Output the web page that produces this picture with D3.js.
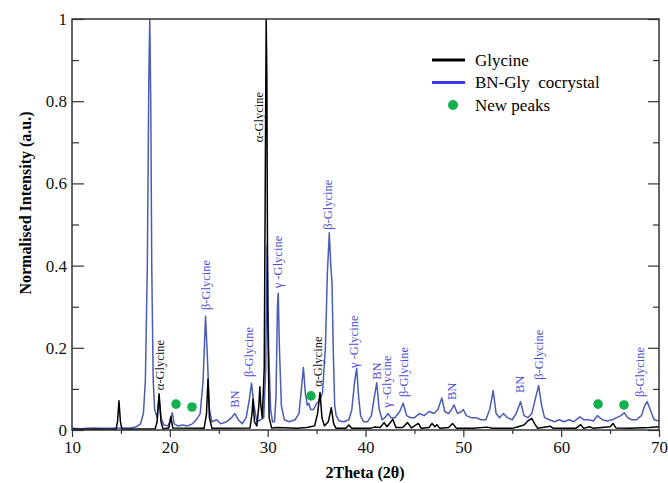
<!DOCTYPE html>
<html>
<head>
<meta charset="utf-8">
<script src="https://cdn.jsdelivr.net/npm/d3@7"></script>
<style>
  body { margin: 0; background: #fff; }
  svg { display: block; font-family: "Liberation Serif", "Times New Roman", serif; }
</style>
</head>
<body>
<div id="chart"></div>
<script>
// BN-Gly cocrystal pattern [2theta, intensity]
const cocrystal = [
  [10.0, 0.004], [11.0, 0.003], [12.0, 0.005], [13.0, 0.004], [14.0, 0.004], [15.0, 0.005],
  [16.0, 0.005], [16.6, 0.008], [17.0, 0.015], [17.3, 0.04], [17.5, 0.12], [17.7, 0.4],
  [17.85, 0.85], [17.95, 1.0], [18.05, 0.8], [18.15, 0.4], [18.3, 0.12], [18.45, 0.05],
  [18.7, 0.03], [18.9, 0.08], [19.1, 0.03], [19.4, 0.012], [19.8, 0.01], [20.0, 0.02],
  [20.25, 0.042], [20.45, 0.015], [20.8, 0.01], [21.3, 0.012], [21.8, 0.01], [22.3, 0.015],
  [22.7, 0.025], [22.9, 0.032], [23.1, 0.04], [23.4, 0.12], [23.65, 0.277], [23.85, 0.17],
  [24.05, 0.05], [24.3, 0.02], [24.8, 0.025], [25.2, 0.015], [25.8, 0.02], [26.3, 0.03],
  [26.65, 0.04], [27.0, 0.025], [27.4, 0.015], [27.8, 0.03], [28.1, 0.07], [28.35, 0.114],
  [28.6, 0.06], [28.9, 0.02], [29.3, 0.025], [29.6, 0.03], [29.8, 0.15], [29.95, 0.45],
  [30.1, 0.2], [30.3, 0.05], [30.5, 0.02], [30.7, 0.02], [30.85, 0.08], [31.0, 0.3],
  [31.08, 0.333], [31.2, 0.2], [31.4, 0.06], [31.7, 0.025], [32.2, 0.02], [32.8, 0.025],
  [33.2, 0.04], [33.45, 0.1], [33.65, 0.152], [33.85, 0.09], [34.05, 0.06], [34.2, 0.065],
  [34.4, 0.05], [34.7, 0.05], [35.0, 0.065], [35.3, 0.07], [35.6, 0.09], [35.9, 0.2],
  [36.1, 0.38], [36.3, 0.48], [36.45, 0.4], [36.58, 0.357], [36.7, 0.2], [36.85, 0.06],
  [37.0, 0.035], [37.3, 0.022], [37.8, 0.02], [38.3, 0.025], [38.6, 0.05], [38.9, 0.12],
  [39.1, 0.15], [39.3, 0.08], [39.5, 0.035], [39.8, 0.02], [40.2, 0.02], [40.6, 0.035],
  [40.9, 0.08], [41.15, 0.115], [41.4, 0.05], [41.7, 0.025], [42.0, 0.03], [42.3, 0.04],
  [42.6, 0.03], [43.0, 0.03], [43.5, 0.045], [43.85, 0.065], [44.2, 0.035], [44.6, 0.03],
  [45.0, 0.03], [45.5, 0.04], [46.0, 0.035], [46.5, 0.045], [47.0, 0.04], [47.4, 0.05],
  [47.8, 0.078], [48.1, 0.045], [48.5, 0.04], [48.8, 0.05], [49.05, 0.061], [49.4, 0.04],
  [49.8, 0.045], [50.0, 0.05], [50.3, 0.035], [50.8, 0.03], [51.3, 0.03], [51.8, 0.025],
  [52.3, 0.025], [52.7, 0.05], [53.05, 0.096], [53.35, 0.04], [53.7, 0.03], [54.1, 0.04],
  [54.5, 0.03], [55.0, 0.025], [55.4, 0.04], [55.85, 0.069], [56.2, 0.035], [56.6, 0.03],
  [57.0, 0.04], [57.4, 0.08], [57.7, 0.108], [58.0, 0.06], [58.3, 0.03], [58.8, 0.025],
  [59.3, 0.02], [59.8, 0.025], [60.3, 0.02], [60.8, 0.025], [61.3, 0.02], [61.9, 0.032],
  [62.3, 0.025], [62.8, 0.025], [63.3, 0.022], [63.7, 0.035], [64.2, 0.025], [64.7, 0.022],
  [65.2, 0.025], [65.7, 0.03], [66.1, 0.035], [66.45, 0.042], [66.8, 0.03], [67.2, 0.025],
  [67.7, 0.025], [68.2, 0.035], [68.55, 0.06], [68.8, 0.069], [69.1, 0.05], [69.5, 0.025],
  [70.0, 0.022]
];

// Glycine pattern [2theta, intensity]
const glycine = [
  [10.0, 0.002], [14.5, 0.002], [14.65, 0.02], [14.8, 0.071], [14.95, 0.02], [15.1, 0.002],
  [18.5, 0.003], [18.7, 0.02], [18.9, 0.088], [19.1, 0.02], [19.3, 0.003], [19.9, 0.005],
  [20.1, 0.032], [20.3, 0.005], [23.5, 0.004], [23.75, 0.04], [23.9, 0.124], [24.05, 0.03],
  [24.3, 0.004], [28.2, 0.005], [28.4, 0.04], [28.5, 0.075], [28.65, 0.02], [28.9, 0.01],
  [29.1, 0.06], [29.2, 0.105], [29.3, 0.06], [29.45, 0.03], [29.65, 0.15], [29.8, 0.8],
  [29.85, 1.0], [29.92, 0.85], [30.0, 0.3], [30.15, 0.03], [30.4, 0.005], [31.0, 0.006],
  [33.0, 0.004], [34.0, 0.006], [34.8, 0.01], [35.1, 0.04], [35.35, 0.091], [35.55, 0.03],
  [35.8, 0.01], [36.2, 0.02], [36.5, 0.054], [36.75, 0.015], [37.0, 0.004], [38.0, 0.004],
  [38.3, 0.012], [38.6, 0.004], [40.5, 0.004], [40.9, 0.007], [41.5, 0.006], [41.9, 0.018],
  [42.2, 0.008], [42.8, 0.026], [43.1, 0.006], [43.8, 0.006], [44.3, 0.018], [44.7, 0.005],
  [45.4, 0.016], [45.7, 0.004], [46.5, 0.006], [46.8, 0.016], [47.1, 0.008], [47.3, 0.013],
  [47.6, 0.004], [48.5, 0.006], [48.9, 0.016], [49.3, 0.004], [51.0, 0.004], [52.4, 0.007],
  [53.0, 0.004], [55.0, 0.004], [55.6, 0.008], [56.2, 0.012], [56.6, 0.022], [57.0, 0.028],
  [57.3, 0.015], [57.6, 0.004], [58.9, 0.009], [59.2, 0.004], [61.5, 0.004], [62.0, 0.013],
  [62.3, 0.004], [62.9, 0.008], [63.3, 0.004], [65.0, 0.008], [65.3, 0.016], [65.6, 0.005],
  [67.0, 0.004], [69.0, 0.006], [70.0, 0.008]
];

// new peaks marked with green dots
const newPeaks = [[20.63, 0.063], [22.27, 0.056], [34.43, 0.083], [63.77, 0.063], [66.42, 0.061]];

// peak labels: [text, 2theta, intensity at label foot, series]
const peakLabels = [
  ["α-Glycine", 19.0, 0.097, "gly"],
  ["β-Glycine", 23.67, 0.292, "bn"],
  ["BN", 26.66, 0.054, "bn"],
  ["β-Glycine", 28.02, 0.129, "bn"],
  ["α-Glycine", 29.04, 0.70, "gly"],
  ["γ -Glycine", 31.03, 0.345, "bn"],
  ["α-Glycine", 35.07, 0.105, "gly"],
  ["β-Glycine", 36.17, 0.487, "bn"],
  ["γ -Glycine", 38.75, 0.151, "bn"],
  ["BN", 41.15, 0.122, "bn"],
  ["γ -Glycine", 42.17, 0.054, "bn"],
  ["β-Glycine", 43.94, 0.08, "bn"],
  ["BN", 48.81, 0.073, "bn"],
  ["BN", 55.79, 0.09, "bn"],
  ["β-Glycine", 57.66, 0.122, "bn"],
  ["β-Glycine", 68.06, 0.08, "bn"]
];

const xMajor = [10, 20, 30, 40, 50, 60, 70];
const xMinor = [15, 25, 35, 45, 55, 65];
const yMajor = [0, 0.2, 0.4, 0.6, 0.8, 1];
const yMinor = [0.1, 0.3, 0.5, 0.7, 0.9];

const legendItems = ["Glycine", "BN-Gly  cocrystal", "New peaks"];

const width = 668;
const height = 483;
const margin = { top: 19, right: 9, bottom: 53, left: 72 };
const plotW = width - margin.left - margin.right;
const plotH = height - margin.top - margin.bottom;

const colors = {
  gly: "#000000",
  bn: "#4a5cb4",
  bnText: "#4d4dd6",
  legendBlue: "#3838ee",
  dot: "#12b04f",
  axis: "#333333"
};

const svg = d3
  .select("#chart")
  .append("svg")
  .attr("width", width)
  .attr("height", height);

const chart = svg
  .append("g")
  .attr("transform", `translate(${margin.left}, ${margin.top})`);

const x = d3.scaleLinear().domain([10, 70]).range([0, plotW]);
const y = d3.scaleLinear().domain([0, 1]).range([plotH, 0]);

chart.append("defs").append("clipPath").attr("id", "clip")
  .append("rect").attr("width", plotW).attr("height", plotH);

const line = d3.line().x((d) => x(d[0])).y((d) => y(d[1]));

const lines = chart.append("g").attr("clip-path", "url(#clip)");
lines.append("path")
  .datum(cocrystal)
  .attr("d", line)
  .attr("fill", "none")
  .attr("stroke", colors.bn)
  .attr("stroke-width", 1.5)
  .attr("stroke-linejoin", "round");
lines.append("path")
  .datum(glycine)
  .attr("d", line)
  .attr("fill", "none")
  .attr("stroke", colors.gly)
  .attr("stroke-width", 1.5)
  .attr("stroke-linejoin", "round");

chart.selectAll(".new-peak")
  .data(newPeaks)
  .enter()
  .append("circle")
  .attr("class", "new-peak")
  .attr("cx", (d) => x(d[0]))
  .attr("cy", (d) => y(d[1]))
  .attr("r", 4.8)
  .attr("fill", colors.dot);

// rotated peak labels
chart.selectAll(".peak-label")
  .data(peakLabels)
  .enter()
  .append("text")
  .attr("class", "peak-label")
  .attr("transform", (d) => `translate(${x(d[1])}, ${y(d[2])}) rotate(-90)`)
  .attr("dy", "0.35em")
  .style("font-size", "12.5px")
  .style("fill", (d) => (d[3] === "gly" ? "#111" : colors.bnText))
  .text((d) => d[0]);

// axes
function styleAxis(g) {
  g.select(".domain").remove();
  g.selectAll(".tick line").attr("stroke", colors.axis).attr("stroke-width", 1.2);
  g.selectAll(".tick text").style("font-size", "17px").style("fill", "#111")
    .style("font-family", "'Liberation Serif', 'Times New Roman', serif");
}

chart.append("g")
  .attr("transform", `translate(0, ${plotH})`)
  .call(d3.axisBottom(x).tickValues(xMajor).tickSize(7).tickPadding(4).tickFormat(d3.format("d")))
  .call(styleAxis);
chart.append("g")
  .attr("transform", `translate(0, ${plotH})`)
  .call(d3.axisBottom(x).tickValues(xMinor).tickSize(4).tickFormat(""))
  .call(styleAxis);

chart.append("g")
  .call(d3.axisLeft(y).tickValues(yMajor).tickSize(-12).tickPadding(5).tickFormat((d) => (d === 0 || d === 1 ? d3.format("d")(d) : d3.format(".1f")(d))))
  .call(styleAxis);
chart.append("g")
  .call(d3.axisLeft(y).tickValues(yMinor).tickSize(-7).tickFormat(""))
  .call(styleAxis);

chart.append("g")
  .attr("transform", `translate(${plotW}, 0)`)
  .call(d3.axisRight(y).tickValues(yMajor).tickSize(-11).tickFormat(""))
  .call(styleAxis);
chart.append("g")
  .attr("transform", `translate(${plotW}, 0)`)
  .call(d3.axisRight(y).tickValues(yMinor).tickSize(-6).tickFormat(""))
  .call(styleAxis);

chart.append("rect")
  .attr("width", plotW)
  .attr("height", plotH)
  .attr("fill", "none")
  .attr("stroke", colors.axis)
  .attr("stroke-width", 1.5);

// axis titles
svg.append("text")
  .attr("x", 365)
  .attr("y", 478)
  .attr("text-anchor", "middle")
  .style("font-size", "16px")
  .style("font-weight", "bold")
  .text("2Theta (2θ)");

svg.append("text")
  .attr("transform", "translate(31, 203) rotate(-90)")
  .attr("text-anchor", "middle")
  .style("font-size", "16px")
  .style("font-weight", "bold")
  .text("Normalised Intensity (a.u.)");

// legend
const legend = svg.append("g").attr("transform", "translate(432, 60)");
const legendRows = legend.selectAll("g")
  .data(legendItems)
  .enter()
  .append("g")
  .attr("transform", (d, i) => `translate(0, ${i * 22.5})`);

legendRows.each(function (d, i) {
  const row = d3.select(this);
  if (i < 2) {
    row.append("line")
      .attr("x1", 0).attr("x2", 33)
      .attr("stroke", i === 0 ? "#000" : colors.legendBlue)
      .attr("stroke-width", 3);
  } else {
    row.append("circle").attr("cx", 21).attr("r", 5).attr("fill", colors.dot);
  }
  row.append("text")
    .attr("x", 43)
    .attr("dy", "0.33em")
    .style("font-size", "17px")
    .style("white-space", "pre")
    .attr("xml:space", "preserve")
    .text(d);
});
</script>
</body>
</html>
